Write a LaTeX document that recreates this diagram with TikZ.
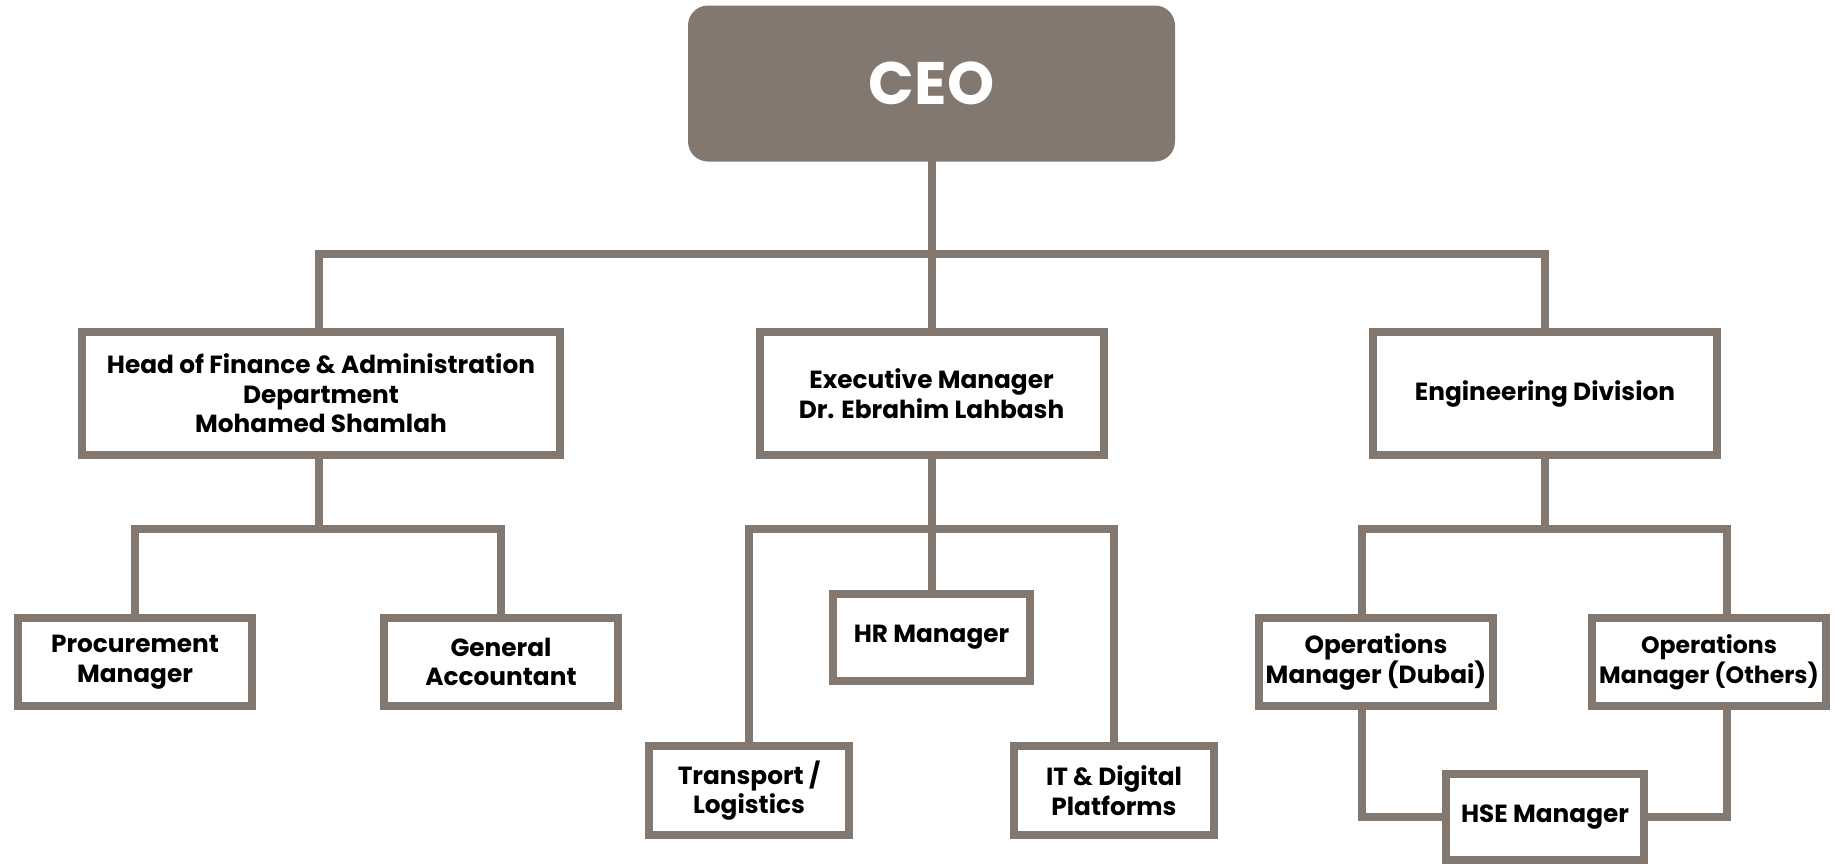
\documentclass[tikz,border=0pt]{standalone}
\usepackage{fontspec}
\setmainfont{Poppins}
\usetikzlibrary{backgrounds}
\definecolor{taupe}{HTML}{827870}
\begin{document}
\begin{tikzpicture}[x=1pt,y=-1pt,
  box/.style={draw=taupe, line width=8pt, fill=white, inner sep=0pt, align=center,
    font=\fontsize{24.8}{29.6}\selectfont\bfseries, text=black},
  conn/.style={draw=taupe, line width=8pt, line cap=rect, line join=miter},
  ceobox/.style={fill=taupe, rounded corners=20pt, inner sep=0pt, text=white,
    font=\fontsize{60}{60}\selectfont\bfseries}]
\useasboundingbox (0,0) rectangle (1843,865);

\node[ceobox, minimum width=487pt, minimum height=156pt] (ceo) at (931.5,83.5) {CEO};

\node[box, minimum width=478pt, minimum height=123pt] (fin) at (321,393.5)
  {Head of Finance \& Administration\\Department\\Mohamed Shamlah};
\node[box, minimum width=344pt, minimum height=123pt] (exec) at (931.5,393.5)
  {Executive Manager\\Dr. Ebrahim Lahbash};
\node[box, minimum width=344pt, minimum height=123pt] (eng) at (1545,393.5)
  {Engineering Division};

\node[box, minimum width=234pt, minimum height=88pt] (proc) at (135,662) {Procurement\\Manager};
\node[box, minimum width=234pt, minimum height=88pt] (gen) at (501,662) {General\\Accountant};

\node[box, minimum width=197pt, minimum height=87pt] (hr) at (931.5,637.5) {HR Manager};
\node[box, minimum width=200pt, minimum height=89pt] (trans) at (749,790.5) {Transport /\\Logistics};
\node[box, minimum width=200pt, minimum height=89pt] (it) at (1114,790.5) {IT \& Digital\\Platforms};

\node[box, minimum width=234pt, minimum height=88pt] (dubai) at (1376,662) {Operations\\Manager (Dubai)};
\node[box, minimum width=234pt, minimum height=88pt, font=\fontsize{23.6}{29.6}\selectfont\bfseries] (others) at (1709,662) {Operations\\Manager (Others)};
\node[box, minimum width=198pt, minimum height=86pt] (hse) at (1545,817) {HSE Manager};

\coordinate (bus) at (931.5,254);
\coordinate (finbus) at (319,529);
\coordinate (exbus) at (931.5,529);
\coordinate (enbus) at (1545,529);
\coordinate (dl) at (1362,529);
\coordinate (dr) at (1727,529);

\begin{scope}[on background layer]
\draw[conn] (ceo.south) -- (bus);
\draw[conn] (fin.north -| finbus) |- (bus) -| (eng.north);
\draw[conn] (exec.north) -- (bus);

\draw[conn] (fin.south -| finbus) -- (finbus);
\draw[conn] (proc.north) |- (finbus) -| (gen.north);

\draw[conn] (exec.south) -- (exbus);
\draw[conn] (hr.north) -- (exbus);
\draw[conn] (trans.north) |- (exbus) -| (it.north);

\draw[conn] (eng.south) -- (enbus);
\draw[conn] (dubai.north -| dl) |- (enbus) -| (others.north -| dr);
\draw[conn] (dubai.south -| dl) |- (hse.west);
\draw[conn] (others.south -| dr) |- (hse.east);
\end{scope}
\end{tikzpicture}
\end{document}
